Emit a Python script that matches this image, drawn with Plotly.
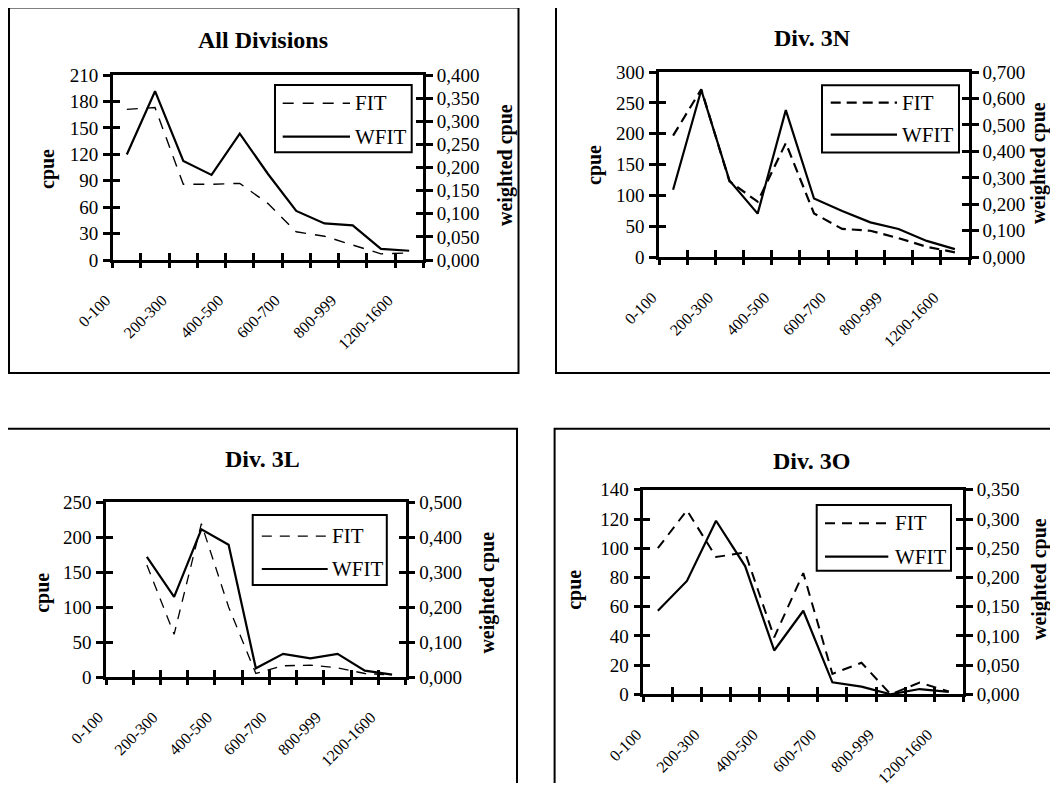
import plotly.graph_objects as go

# ---------------- data ----------------
categories = ["0-100", "100-200", "200-300", "300-400", "400-500", "500-600",
              "600-700", "700-800", "800-999", "1000-1200", "1200-1600"]
tick_labels = ["0-100", "", "200-300", "", "400-500", "", "600-700", "",
               "800-999", "", "1200-1600"]

all_fit = [171, 173, 86, 86, 87, 64, 32, 27, 17, 7, 8]
all_wfit = [0.228, 0.365, 0.214, 0.184, 0.273, 0.186, 0.106, 0.079, 0.075, 0.024, 0.020]

n3_fit = [197, 272, 123, 90, 185, 71, 46, 43, 31, 17, 8]
n3_wfit = [0.255, 0.632, 0.290, 0.165, 0.556, 0.222, 0.175, 0.132, 0.107, 0.062, 0.031]

l3_fit = [None, 160, 61, 219, 100, 5, 16, 17, 13, 5, 3]
l3_wfit = [None, 0.343, 0.229, 0.422, 0.378, 0.025, 0.066, 0.053, 0.066, 0.018, 0.007]

o3_fit = [100, 126, 94, 97, 39, 83, 14, 21.6, 0, 8, 2]
o3_wfit = [0.143, 0.194, 0.297, 0.2195, 0.075, 0.143, 0.0205, 0.013, 0.0, 0.009, 0.004]

titles = ["All Divisions", "Div. 3N", "Div. 3L", "Div. 3O"]
fit_series = [all_fit, n3_fit, l3_fit, o3_fit]
wfit_series = [all_wfit, n3_wfit, l3_wfit, o3_wfit]
left_max = [210, 300, 250, 140]
left_dtick = [30, 50, 50, 20]
right_max = [0.4, 0.7, 0.5, 0.35]
right_dtick = [0.05, 0.1, 0.1, 0.05]

# ---------------- layout geometry (window pixels) ----------------
OX, OY = 8, 8                       # page body margin
W, H = 1058 - 2 * OX, 791 - 2 * OY  # figure fits the window without scrolling

panels = [
    dict(plot=(112.7, 75, 423.3, 260), box=(9, 7.5, 518.5, 373), title=(263, 40),
         legend=(275, 85, 411.7, 152.3), lx=(282.7, 350), ly=(103.3, 136.7), tx=352.5,
         cpue=(47, 169), wcpue=(505, 165), dash="11px,9px", dw=1.4),
    dict(plot=(659, 72, 969, 257.3), box=(556, 7, 1075, 373), title=(812, 38),
         legend=(822, 85.2, 959, 152.5), lx=(830.7, 897), ly=(102.7, 134.7), tx=900,
         cpue=(594, 165), wcpue=(1039, 163), dash="10px,6px", dw=2.2),
    dict(plot=(106, 502, 405.7, 677), box=(5, 428.8, 517, 805), title=(262, 459),
         legend=(252.7, 515, 386.8, 585), lx=(261.8, 327.7), ly=(536.2, 569), tx=330.4,
         cpue=(42.2, 592.6), wcpue=(488, 592.6), dash="10px,8px", dw=1.3),
    dict(plot=(643.3, 489.8, 963.3, 694.3), box=(554.6, 428.7, 1075, 805), title=(811, 461),
         legend=(816.7, 505, 951, 570.7), lx=(825, 888.3), ly=(523.3, 556.7), tx=893,
         cpue=(573.8, 590), wcpue=(1039, 579), dash="10px,7px", dw=2.0),
]


def px(x):
    return (x - OX) / W


def py(y):
    return 1 - (y - OY) / H


def ref(prefix, n):
    return prefix if n == 1 else f"{prefix}{n}"


def axkey(prefix, n):
    return f"{prefix}axis" if n == 1 else f"{prefix}axis{n}"


FONT = "Liberation Serif"
AXW = 2.5
fig = go.Figure()
layout = dict(
    width=W, height=H, margin=dict(l=0, r=0, t=0, b=0, autoexpand=False),
    paper_bgcolor="white", plot_bgcolor="white",
    font=dict(family=FONT, color="black", size=18),
    separators=", ", showlegend=False,
)
shapes = []
annotations = []
boundaries = [k - 0.5 for k in range(len(categories) + 1)]

for p, P in enumerate(panels):
    xm, xo, xi = 3 * p + 1, 3 * p + 2, 3 * p + 3
    yl, yr, yli, yri = 4 * p + 1, 4 * p + 2, 4 * p + 3, 4 * p + 4
    x0, y0, x1, y1 = P["plot"]
    xdom = [px(x0), px(x1)]
    ydom = [py(y1), py(y0)]
    crange = [-0.5, len(categories) - 0.5]

    layout[axkey("x", xm)] = dict(
        domain=xdom, anchor=ref("y", yl), type="category",
        categoryorder="array", categoryarray=categories, range=crange,
        tickmode="array", tickvals=categories, ticktext=tick_labels,
        tickangle=-45, ticks="", showline=True, linewidth=AXW, linecolor="black",
        mirror=True, showgrid=False, zeroline=False, automargin=False,
        tickfont=dict(family=FONT, size=16, color="black"),
        ticklabelstandoff=22, ticklabelshift=-21,
    )
    for n, direction in ((xo, "outside"), (xi, "inside")):
        layout[axkey("x", n)] = dict(
            domain=xdom, anchor=ref("y", yl), overlaying=ref("x", xm),
            range=crange, tickmode="array", tickvals=boundaries,
            ticks=direction, ticklen=7, tickwidth=AXW, tickcolor="black",
            showticklabels=False, showline=False, showgrid=False, zeroline=False,
        )

    layout[axkey("y", yl)] = dict(
        domain=ydom, anchor=ref("x", xm), range=[0, left_max[p]], dtick=left_dtick[p],
        tick0=0, ticks="outside", ticklen=7, tickwidth=AXW, tickcolor="black",
        showline=True, linewidth=AXW, linecolor="black", showgrid=False, zeroline=False,
        automargin=False,
        tickfont=dict(family=FONT, size=19, color="black"), ticklabelstandoff=1,
    )
    layout[axkey("y", yr)] = dict(
        domain=ydom, anchor=ref("x", xm), overlaying=ref("y", yl), side="right",
        range=[0, right_max[p]], dtick=right_dtick[p], tick0=0, tickformat=".3f",
        ticks="outside", ticklen=7, tickwidth=AXW, tickcolor="black",
        showline=True, linewidth=AXW, linecolor="black", showgrid=False, zeroline=False,
        automargin=False,
        tickfont=dict(family=FONT, size=19, color="black"), ticklabelstandoff=0,
    )
    layout[axkey("y", yli)] = dict(
        domain=ydom, anchor=ref("x", xm), overlaying=ref("y", yl), side="left",
        range=[0, left_max[p]], dtick=left_dtick[p], tick0=0,
        ticks="inside", ticklen=7, tickwidth=AXW, tickcolor="black",
        showticklabels=False, showline=False, showgrid=False, zeroline=False,
    )
    layout[axkey("y", yri)] = dict(
        domain=ydom, anchor=ref("x", xm), overlaying=ref("y", yl), side="right",
        range=[0, right_max[p]], dtick=right_dtick[p], tick0=0,
        ticks="inside", ticklen=7, tickwidth=AXW, tickcolor="black",
        showticklabels=False, showline=False, showgrid=False, zeroline=False,
    )

    # data traces
    fig.add_trace(go.Scatter(
        x=categories, y=fit_series[p], name="FIT", mode="lines",
        line=dict(color="black", width=P["dw"], dash=P["dash"]),
        xaxis=ref("x", xm), yaxis=ref("y", yl), connectgaps=False, hoverinfo="x+y",
    ))
    fig.add_trace(go.Scatter(
        x=categories, y=wfit_series[p], name="WFIT", mode="lines",
        line=dict(color="black", width=2.2),
        xaxis=ref("x", xm), yaxis=ref("y", yr), connectgaps=False, hoverinfo="x+y",
    ))
    # empty traces so overlay tick axes are rendered
    fig.add_trace(go.Scatter(x=[], y=[], mode="lines", xaxis=ref("x", xo),
                             yaxis=ref("y", yli), hoverinfo="skip"))
    fig.add_trace(go.Scatter(x=[], y=[], mode="lines", xaxis=ref("x", xi),
                             yaxis=ref("y", yri), hoverinfo="skip"))

    # panel border
    bx0, by0, bx1, by1 = P["box"]
    shapes.append(dict(type="rect", xref="paper", yref="paper",
                       x0=px(bx0), x1=px(bx1), y0=py(by1), y1=py(by0),
                       line=dict(color="black", width=2), fillcolor="rgba(0,0,0,0)",
                       layer="below"))
    # legend box
    lx0, ly0, lx1, ly1 = P["legend"]
    shapes.append(dict(type="rect", xref="paper", yref="paper",
                       x0=px(lx0), x1=px(lx1), y0=py(ly1), y1=py(ly0),
                       line=dict(color="black", width=2), fillcolor="white",
                       layer="above"))
    sx0, sx1 = P["lx"]
    fy, wy = P["ly"]
    shapes.append(dict(type="line", xref="paper", yref="paper",
                       x0=px(sx0), x1=px(sx1), y0=py(fy), y1=py(fy),
                       line=dict(color="black", width=P["dw"], dash=P["dash"])))
    shapes.append(dict(type="line", xref="paper", yref="paper",
                       x0=px(sx0), x1=px(sx1), y0=py(wy), y1=py(wy),
                       line=dict(color="black", width=2.2)))
    annotations.append(dict(text="FIT", xref="paper", yref="paper",
                            x=px(P["tx"]), y=py(fy), xanchor="left", yanchor="middle",
                            showarrow=False, font=dict(family=FONT, size=21, color="black")))
    annotations.append(dict(text="WFIT", xref="paper", yref="paper",
                            x=px(P["tx"]), y=py(wy), xanchor="left", yanchor="middle",
                            showarrow=False, font=dict(family=FONT, size=21, color="black")))
    # title
    annotations.append(dict(text=f"<b>{titles[p]}</b>", xref="paper", yref="paper",
                            x=px(P["title"][0]), y=py(P["title"][1]),
                            xanchor="center", yanchor="middle", showarrow=False,
                            font=dict(family=FONT, size=24, color="black")))
    # axis titles
    annotations.append(dict(text="<b>cpue</b>", xref="paper", yref="paper",
                            x=px(P["cpue"][0]), y=py(P["cpue"][1]), textangle=-90,
                            xanchor="center", yanchor="middle", showarrow=False,
                            font=dict(family=FONT, size=20, color="black")))
    annotations.append(dict(text="<b>weighted cpue</b>", xref="paper", yref="paper",
                            x=px(P["wcpue"][0]), y=py(P["wcpue"][1]), textangle=-90,
                            xanchor="center", yanchor="middle", showarrow=False,
                            font=dict(family=FONT, size=20, color="black")))

layout["shapes"] = shapes
layout["annotations"] = annotations
fig.update_layout(**layout)
fig.write_html("out.html")
